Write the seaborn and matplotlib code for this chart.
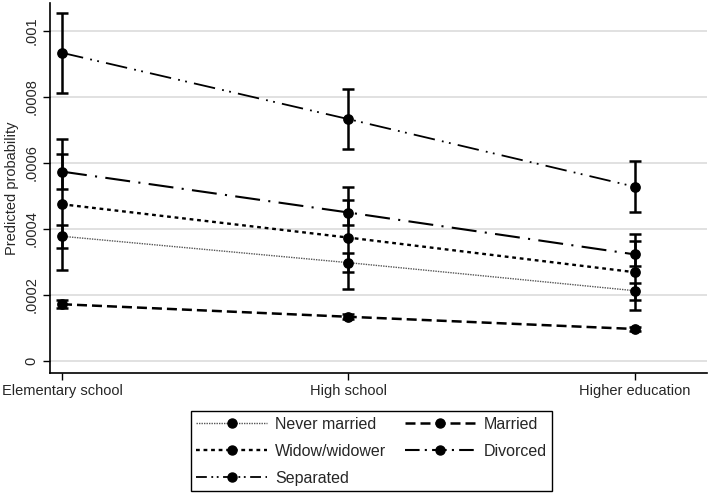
import matplotlib
matplotlib.use("Agg")
import matplotlib.pyplot as plt
from matplotlib.lines import Line2D
import pandas as pd
import seaborn as sns

sns.set_style("white")
plt.rcParams["font.family"] = ["Liberation Sans", "DejaVu Sans"]

# Data
education = ["Elementary school", "High school", "Higher education"]
statuses = ["Never married", "Married", "Widow/widower", "Divorced", "Separated"]

never_mean = [0.000378, 0.000298, 0.000213]
never_lo = [0.000341, 0.000271, 0.000185]
never_hi = [0.000412, 0.000326, 0.000237]

married_mean = [0.000172, 0.000134, 0.000097]
married_lo = [0.000160, 0.000127, 0.000090]
married_hi = [0.000184, 0.000141, 0.000104]

widow_mean = [0.000475, 0.000374, 0.000269]
widow_lo = [0.000276, 0.000217, 0.000155]
widow_hi = [0.000673, 0.000528, 0.000385]

divorced_mean = [0.000574, 0.000450, 0.000323]
divorced_lo = [0.000520, 0.000412, 0.000288]
divorced_hi = [0.000626, 0.000488, 0.000364]

separated_mean = [0.000934, 0.000733, 0.000528]
separated_lo = [0.000813, 0.000641, 0.000452]
separated_hi = [0.001054, 0.000824, 0.000606]

ytick_vals = [0, 0.0002, 0.0004, 0.0006, 0.0008, 0.001]
ytick_labels = ["0", ".0002", ".0004", ".0006", ".0008", ".001"]

series = {
    "Never married": (never_mean, never_lo, never_hi),
    "Married": (married_mean, married_lo, married_hi),
    "Widow/widower": (widow_mean, widow_lo, widow_hi),
    "Divorced": (divorced_mean, divorced_lo, divorced_hi),
    "Separated": (separated_mean, separated_lo, separated_hi),
}

rows = []
for status, (m, lo, hi) in series.items():
    for i, edu in enumerate(education):
        rows.append({"status": status, "edu": edu, "x": i,
                     "prob": m[i], "lo": lo[i], "hi": hi[i]})
df = pd.DataFrame(rows)

# line styles per marital status (plot, legend)
styles = {
    "Never married": dict(ls=(0, (1, 0.8)), leg=(0, (1, 0.8)), lw=1.0, color="#555555"),
    "Married": dict(ls=(0, (4, 2)), leg=(0, (4, 2)), lw=1.8, color="black"),
    "Widow/widower": dict(ls=(0, (1.6, 1.6)), leg=(0, (1.6, 1.6)), lw=1.7, color="black"),
    "Divorced": dict(ls=(0, (12, 4, 1, 4)), leg=(0, (7, 2.5, 1, 2.5)), lw=1.5, color="black"),
    "Separated": dict(ls=(0, (12, 4, 1, 3, 1, 4)), leg=(0, (6, 2.5, 1, 2, 1, 2.5)), lw=1.3, color="black"),
}

fig = plt.figure(figsize=(7.09, 4.98), dpi=100)
ax = fig.add_axes([0.0705, 0.251, 0.926, 0.743])

for status in statuses:
    sub = df[df["status"] == status]
    st = styles[status]
    sns.lineplot(data=sub, x="x", y="prob", ax=ax, color=st["color"],
                 linestyle=st["ls"], linewidth=st["lw"], legend=False,
                 errorbar=None, zorder=2)
    ax.errorbar(sub["x"], sub["prob"],
                yerr=[sub["prob"] - sub["lo"], sub["hi"] - sub["prob"]],
                fmt="none", ecolor="black", elinewidth=1.8, capsize=4,
                capthick=1.8, zorder=3)
    ax.scatter(sub["x"], sub["prob"], s=45, color="black", zorder=4)

ax.set_xlim(-0.042, 2.25)
ax.set_ylim(-0.0000364, 0.001085)
ax.set_xticks(range(len(education)))
ax.set_xticklabels(education, fontsize=10.5)
ax.set_yticks(ytick_vals)
ax.set_yticklabels(ytick_labels, fontsize=10.5, rotation=90, va="center")
ax.set_xlabel("")
ax.set_ylabel("Predicted probability", fontsize=10.5, labelpad=4)
ax.yaxis.grid(True, color="#dcdcdc", lw=1.2)
ax.xaxis.grid(False)
ax.tick_params(axis="both", direction="out", length=5, width=1, color="black",
               left=True, bottom=True, pad=3)
for side in ["top", "right"]:
    ax.spines[side].set_visible(False)
for side in ["left", "bottom"]:
    ax.spines[side].set_color("black")
    ax.spines[side].set_linewidth(1.2)

handles = {}
for status in statuses:
    st = styles[status]
    handles[status] = Line2D([], [], color=st["color"], linestyle=st["leg"],
                             linewidth=st["lw"], marker="o", markersize=6.5,
                             markerfacecolor="black", markeredgecolor="black")
order = ["Never married", "Widow/widower", "Separated", "Married", "Divorced"]
leg = fig.legend([handles[k] for k in order], order, loc="upper center",
                 bbox_to_anchor=(0.524, 0.174), ncol=2, fontsize=11.5,
                 frameon=True, fancybox=False, framealpha=1, edgecolor="black",
                 handlelength=4.45, labelspacing=0.75, columnspacing=1.15,
                 handletextpad=0.5, borderpad=0.35, borderaxespad=0.0,
                 numpoints=1)
leg.get_frame().set_linewidth(1.0)

fig.savefig("out.png", dpi=100)
